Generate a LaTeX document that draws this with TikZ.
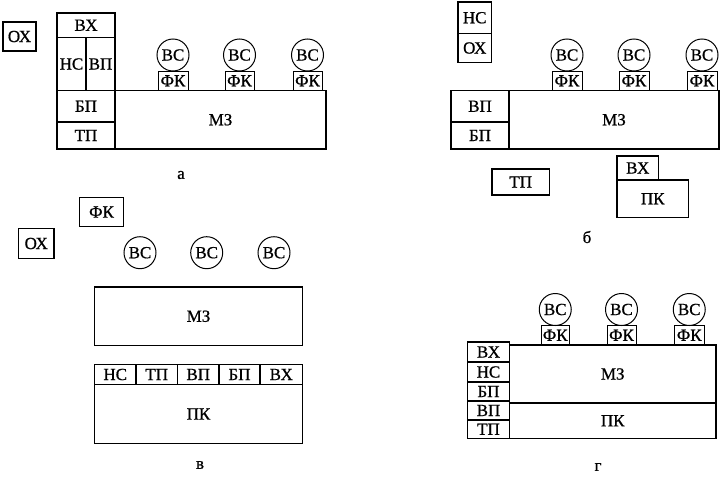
\documentclass[tikz,border=0pt]{standalone}
\usepackage{fontspec}
\setmainfont{Liberation Serif}
\usepackage{tikz}
\usetikzlibrary{positioning}
\newfontfamily\heavyserif[FakeBold=0.8]{Liberation Serif}
\newcommand{\blkfont}{\heavyserif\fontsize{17}{19}\selectfont}
\tikzset{
  blk/.style={draw,line width=1.6pt,inner sep=0pt,outer sep=0pt,
    anchor=north west,font=\blkfont},
  sz/.style 2 args={minimum width=#1pt,minimum height=#2pt},
  fk-box/.style={draw,line width=1pt,inner sep=0pt,outer sep=0pt,
    anchor=north west,minimum height=19.5pt,font=\blkfont},
  vs-circ/.style={draw,circle,line width=1pt,minimum size=32pt,
    inner sep=0pt,outer sep=0pt,font=\blkfont},
  lbl/.style={font=\blkfont},
}
\begin{document}
\begin{tikzpicture}[x=1pt,y=-1pt]
  \useasboundingbox (0,0) rectangle (724,482);

  % а
  \node[blk,sz={33}{29}]     (oxA) at (3,22)     {ОХ};
  \node[blk,sz={58}{24.5}]   (vxA) at (57,13)    {ВХ};
  \node[blk,sz={29}{53}]     (nsA) at (57,37.5)  {НС};
  \node[blk,sz={29}{53}]     (vpA) at (86,37.5)  {ВП};
  \node[blk,sz={58}{31.5}]   (bpA) at (57,90.5)  {БП};
  \node[blk,sz={58}{27}]     (tpA) at (57,122)   {ТП};
  \node[blk,sz={211}{58.5}]  (mzA) at (115,90.5) {МЗ};
  \node[fk-box,minimum width=30pt] (fkA1) at (158,71) {ФК};
  \node[fk-box,minimum width=29pt] (fkA2) at (225,71) {ФК};
  \node[fk-box,minimum width=29pt] (fkA3) at (293,71) {ФК};
  \node[vs-circ,above=0pt of fkA1] (vsA1) {ВС};
  \node[vs-circ,above=0pt of fkA2] (vsA2) {ВС};
  \node[vs-circ,above=0pt of fkA3] (vsA3) {ВС};
  \node[lbl] (capA) at (181,175) {а};

  % б
  \node[blk,sz={33.5}{31.5}] (nsB) at (458,2)     {НС};
  \node[blk,sz={33.5}{29}]   (oxB) at (458,33.5)  {ОХ};
  \node[blk,sz={58}{31.5}]   (vpB) at (451,90.5)  {ВП};
  \node[blk,sz={58}{27}]     (bpB) at (451,122)   {БП};
  \node[blk,sz={210}{58.5}]  (mzB) at (509,90.5)  {МЗ};
  \node[fk-box,minimum width=30pt] (fkB1) at (552,71) {ФК};
  \node[fk-box,minimum width=30pt] (fkB2) at (619,71) {ФК};
  \node[fk-box,minimum width=30pt] (fkB3) at (687,71) {ФК};
  \node[vs-circ,above=0pt of fkB1] (vsB1) {ВС};
  \node[vs-circ,above=0pt of fkB2] (vsB2) {ВС};
  \node[vs-circ,above=0pt of fkB3] (vsB3) {ВС};
  \node[blk,sz={57.5}{26}]   (tpB) at (492,169)   {ТП};
  \node[blk,sz={41.5}{24}]   (vxB) at (617,156)   {ВХ};
  \node[blk,sz={71.5}{37.5}] (pkB) at (617,180)   {ПК};
  \node[lbl] (capB) at (587,237) {б};

  % в
  \node[blk,sz={44}{29}]     (fkV) at (79.5,197.5) {ФК};
  \node[blk,sz={35.5}{30}]   (oxV) at (18.5,228.5) {ОХ};
  \node[vs-circ] (vsV1) at (140,252.7) {ВС};
  \node[vs-circ] (vsV2) at (206.7,252.7) {ВС};
  \node[vs-circ] (vsV3) at (274,252.7) {ВС};
  \node[blk,sz={208}{58.5}]  (mzV) at (94.5,287)   {МЗ};
  \node[blk,sz={41.5}{20}]   (nsV) at (94.5,364.5) {НС};
  \node[blk,sz={41.5}{20}]   (tpV) at (136,364.5)  {ТП};
  \node[blk,sz={41.5}{20}]   (vpV) at (177.5,364.5) {ВП};
  \node[blk,sz={41}{20}]     (bpV) at (219,364.5)  {БП};
  \node[blk,sz={42.5}{20}]   (vxV) at (260,364.5)  {ВХ};
  \node[blk,sz={208}{59}]    (pkV) at (94.5,384.5) {ПК};
  \node[lbl] (capV) at (200,465) {в};

  % г
  \node[blk,sz={42}{20}]     (vxG) at (467.5,342) {ВХ};
  \node[blk,sz={42}{20}]     (nsG) at (467.5,362) {НС};
  \node[blk,sz={42}{19}]     (bpG) at (467.5,382) {БП};
  \node[blk,sz={42}{19}]     (vpG) at (467.5,401) {ВП};
  \node[blk,sz={42}{18.5}]   (tpG) at (467.5,420) {ТП};
  \node[blk,sz={206.5}{58}]  (mzG) at (509.5,345) {МЗ};
  \node[blk,sz={206.5}{35.5}] (pkG) at (509.5,403) {ПК};
  \node[fk-box,minimum width=28.5pt] (fkG1) at (541,325.5)   {ФК};
  \node[fk-box,minimum width=29pt]   (fkG2) at (607,325.5)   {ФК};
  \node[fk-box,minimum width=29.5pt] (fkG3) at (674.5,325.5) {ФК};
  \node[vs-circ,above=0pt of fkG1] (vsG1) {ВС};
  \node[vs-circ,above=0pt of fkG2] (vsG2) {ВС};
  \node[vs-circ,above=0pt of fkG3] (vsG3) {ВС};
  \node[lbl] (capG) at (598,467) {г};
\end{tikzpicture}
\end{document}
